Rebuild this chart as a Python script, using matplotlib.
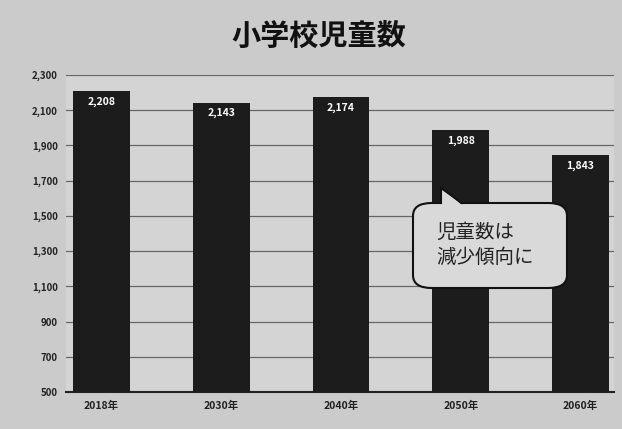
import matplotlib
matplotlib.use("Agg")
import matplotlib.pyplot as plt
from matplotlib.patches import FancyBboxPatch, Polygon
from matplotlib.lines import Line2D

plt.rcParams['font.family'] = ['Noto Sans CJK JP', 'DejaVu Sans']

# data
years = ['2018年', '2030年', '2040年', '2050年', '2060年']
children = [2208, 2143, 2174, 1988, 1843]
y_ticks = [500, 700, 900, 1100, 1300, 1500, 1700, 1900, 2100, 2300]
title = '小学校児童数'
note = '児童数は\n減少傾向に'

W, H = 622, 429
fig = plt.figure(figsize=(W / 100, H / 100), dpi=100, facecolor='#cbcbcb')
ax = fig.add_axes([66 / W, 37 / H, 548 / W, 317 / H])
ax.set_facecolor('#d4d4d4')

x = range(len(years))
bars = ax.bar(x, children, width=0.475, color='#1c1c1c', zorder=3)
for b, v in zip(bars, children):
    ax.text(b.get_x() + b.get_width() / 2, v - 30, f'{v:,}', ha='center', va='top',
            color='white', fontsize=7.5, fontweight='bold', zorder=4)

ax.set_xlim(-0.296, 4.28)
ax.set_ylim(500, 2300)
ax.set_yticks(y_ticks)
ax.set_yticklabels([f'{t:,}' for t in y_ticks], fontsize=7, fontweight='bold', color='#222222')
ax.set_xticks(list(x))
ax.set_xticklabels(years, fontsize=7.5, fontweight='bold', color='#222222')
ax.tick_params(length=0, pad=6)
ax.grid(axis='y', color='#666666', linewidth=0.9, zorder=1)
for s in ['top', 'right', 'left']:
    ax.spines[s].set_visible(False)
ax.spines['bottom'].set_color('#222222')
ax.spines['bottom'].set_linewidth(1.5)

fig.text(319 / W, 1 - 36 / H, title, ha='center', va='center', fontsize=21,
         fontweight='bold', color='#111111')

# speech bubble
def px(xp, yp):
    return (xp / W, 1 - yp / H)

bx0, by0, bx1, by1 = 413, 203, 567, 288
box = FancyBboxPatch(px(bx0, by1), (bx1 - bx0) / W, (by1 - by0) / H,
                     boxstyle='round,pad=0,rounding_size=0.03',
                     transform=fig.transFigure, facecolor='#d9d9d9',
                     edgecolor='#111111', linewidth=1.5, zorder=5)
fig.patches.append(box)
tip, base_l, base_r = px(441, 188), px(441, by0), px(462, by0)
cover = Polygon([tip, px(441, by0 + 2), px(462, by0 + 2)], closed=True,
                transform=fig.transFigure, facecolor='#d9d9d9', edgecolor='none', zorder=6)
fig.patches.append(cover)
fig.lines.append(Line2D([base_l[0], tip[0], base_r[0]], [base_l[1], tip[1], base_r[1]],
                        transform=fig.transFigure, color='#111111', linewidth=1.5, zorder=7))
fig.text(436 / W, 1 - 245 / H, note, ha='left', va='center', fontsize=14,
         color='#222222', linespacing=1.3, zorder=8)

fig.savefig('out.png', dpi=100, facecolor=fig.get_facecolor())
